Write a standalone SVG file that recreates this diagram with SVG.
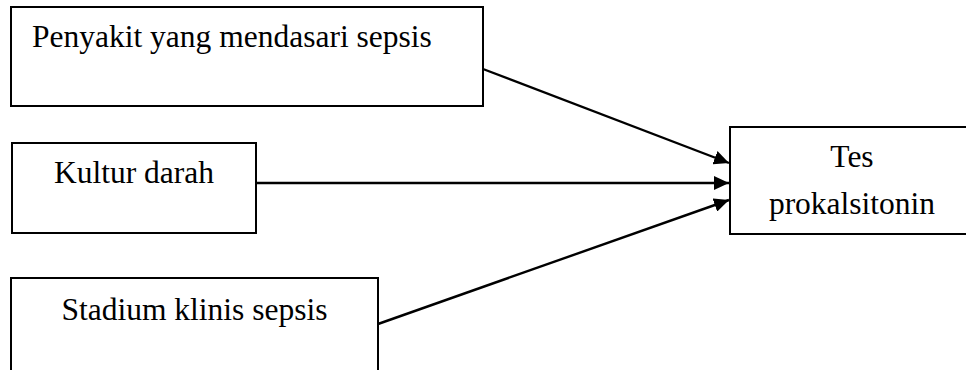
<svg xmlns="http://www.w3.org/2000/svg" width="966" height="370" viewBox="0 0 966 370">
<style>
.box{fill:#fff;stroke:#000;stroke-width:2}
text{font-family:'Liberation Serif','Times New Roman',Times,'DejaVu Serif',serif;font-size:31.5px;fill:#000}
.c{text-anchor:middle}
.edge{stroke:#000;stroke-width:2.4;fill:none;marker-end:url(#ah)}
</style>
<defs>
<marker id="ah" markerUnits="userSpaceOnUse" markerWidth="16" markerHeight="14" refX="15" refY="7" orient="auto">
<path d="M0,0 L15,7 L0,14 Z" fill="#000"/>
</marker>
</defs>
<rect width="966" height="370" fill="#fff"/>
<g id="n1"><rect class="box" x="11" y="7" width="472" height="99"/><text font-family="Liberation Serif, serif" x="32" y="47">Penyakit yang mendasari sepsis</text></g>
<g id="n2"><rect class="box" x="12" y="143" width="244" height="90"/><text font-family="Liberation Serif, serif" class="c" x="134" y="183">Kultur darah</text></g>
<g id="n3"><rect class="box" x="11" y="278" width="367" height="100"/><text font-family="Liberation Serif, serif" class="c" x="194.5" y="320">Stadium klinis sepsis</text></g>
<g id="n4"><rect class="box" x="730" y="127" width="245" height="107"/><text font-family="Liberation Serif, serif" class="c" x="852" y="167">Tes</text><text font-family="Liberation Serif, serif" class="c" x="852" y="214">prokalsitonin</text></g>
<g id="edges">
<line class="edge" x1="483" y1="69" x2="729" y2="163"/>
<line class="edge" x1="256" y1="183" x2="729" y2="183"/>
<line class="edge" x1="378" y1="324" x2="729" y2="200"/>
</g>
</svg>
